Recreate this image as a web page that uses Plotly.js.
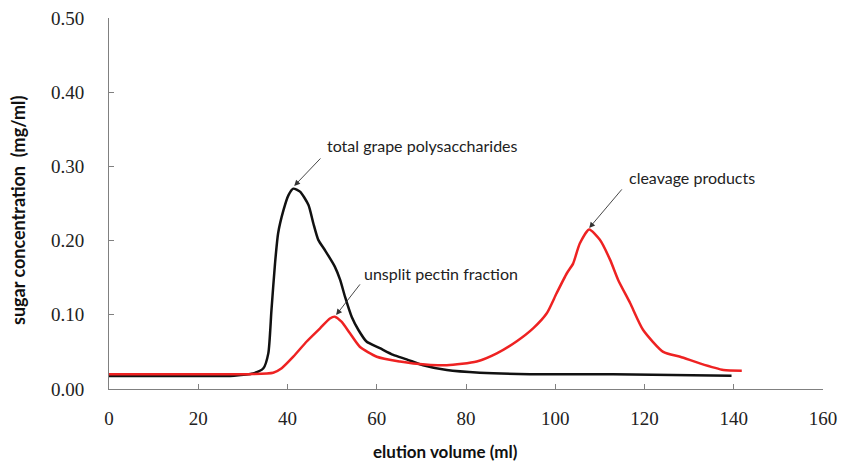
<!DOCTYPE html>
<html>
<head>
<meta charset="utf-8">
<script src="https://cdn.plot.ly/plotly-3.0.1.min.js"></script>
<style>
html,body{margin:0;padding:0;background:#fff;}
#chart{width:841px;height:464px;}
</style>
</head>
<body>
<div id="chart"></div>
<script>
// Total grape polysaccharides (black)
const totalX = [0, 10, 20, 28, 32.3, 34.6, 35.7, 36.4, 37.2, 37.9, 39.1, 40.2, 41.3, 42.8, 44.7, 45.8, 46.9, 48.4, 50.6, 51.8, 52.9, 54.4, 55.9, 57.7, 60.7, 63.7, 66.7, 70.4, 75.7, 83.1, 94.3, 113, 139.5];
const totalY = [0.0175, 0.0175, 0.0175, 0.018, 0.021, 0.028, 0.048, 0.106, 0.169, 0.21, 0.241, 0.261, 0.27, 0.266, 0.248, 0.223, 0.201, 0.187, 0.165, 0.147, 0.124, 0.097, 0.0795, 0.064, 0.055, 0.046, 0.040, 0.032, 0.0256, 0.022, 0.020, 0.020, 0.018];

// Cleavage fraction (red)
const cleaveX = [0, 10, 20, 31.6, 36.8, 38.7, 41.3, 44.3, 47.3, 49.5, 50.6, 52.1, 54.0, 56.2, 60.0, 65.2, 68.2, 75.7, 82.4, 86.9, 91.3, 95.1, 98.1, 100.3, 102.6, 104.0, 105.5, 107.6, 110.0, 112.3, 114.1, 116.8, 119.7, 124.2, 128.0, 132.4, 137.7, 141.8];
const cleaveY = [0.020, 0.020, 0.020, 0.020, 0.022, 0.028, 0.0435, 0.064, 0.0818, 0.095, 0.0975, 0.0907, 0.075, 0.057, 0.0435, 0.037, 0.0345, 0.032, 0.037, 0.048, 0.064, 0.082, 0.102, 0.129, 0.156, 0.169, 0.196, 0.215, 0.201, 0.174, 0.147, 0.1155, 0.0795, 0.050, 0.0435, 0.0345, 0.0256, 0.0247];

const xTicks = [0, 20, 40, 60, 80, 100, 120, 140, 160];
const yTicks = [0, 0.1, 0.2, 0.3, 0.4, 0.5];

const labels = ['total grape polysaccharides', 'unsplit pectin fraction', 'cleavage products'];
const labelX = [48.4, 56.7, 116.1];
const labelY = [0.3275, 0.155, 0.2844];
const arrowHeadX = [41.5, 50.9, 107.6];
const arrowHeadY = [0.2736, 0.0997, 0.217];
const arrowTailX = [47.7, 56.5, 115.2];
const arrowTailY = [0.3127, 0.143, 0.271];

const traces = [
  {x: totalX, y: totalY, type: 'scatter', mode: 'lines',
   line: {color: '#111111', width: 2.5, shape: 'spline', smoothing: 0.6}, hoverinfo: 'skip'},
  {x: cleaveX, y: cleaveY, type: 'scatter', mode: 'lines',
   line: {color: '#ee2222', width: 2.5, shape: 'spline', smoothing: 0.6}, hoverinfo: 'skip'}
];

const annotations = [];
for (let i = 0; i < labels.length; i++) {
  annotations.push({
    xref: 'x', yref: 'y', x: labelX[i], y: labelY[i], text: labels[i],
    showarrow: false, xanchor: 'left', yanchor: 'middle',
    font: {family: 'Lato, "Open Sans", sans-serif', size: 16, color: '#222'}
  });
  annotations.push({
    xref: 'x', yref: 'y', axref: 'x', ayref: 'y',
    x: arrowHeadX[i], y: arrowHeadY[i], ax: arrowTailX[i], ay: arrowTailY[i],
    text: '', showarrow: true, arrowhead: 2, arrowsize: 1.3, arrowwidth: 0.9, arrowcolor: '#333'
  });
}
annotations.push({
  xref: 'paper', yref: 'paper', x: 0.4706, y: -0.1698, text: '<b>elution volume (ml)</b>',
  showarrow: false, xanchor: 'center', yanchor: 'middle',
  font: {family: 'Lato, "Open Sans", sans-serif', size: 17, color: '#111'}
});
annotations.push({
  xref: 'paper', yref: 'paper', x: -0.1275, y: 0.4825, text: '<b>sugar concentration&nbsp;&nbsp;(mg/ml)</b>',
  showarrow: false, xanchor: 'center', yanchor: 'middle', textangle: -90,
  font: {family: 'Lato, "Open Sans", sans-serif', size: 18, color: '#111'}
});

const layout = {
  width: 841, height: 464,
  margin: {l: 109, r: 18, t: 18, b: 75},
  paper_bgcolor: '#fff', plot_bgcolor: '#fff',
  showlegend: false,
  xaxis: {
    range: [0, 160], tickvals: xTicks, ticktext: xTicks.map(String),
    showgrid: false, zeroline: false, showline: true, linecolor: '#808080', linewidth: 1,
    ticks: 'inside', ticklen: 5, tickcolor: '#808080',
    ticklabelstandoff: 12,
    tickfont: {family: '"Liberation Serif", "Times New Roman", serif', size: 19, color: '#222'}
  },
  yaxis: {
    range: [0, 0.5], tickvals: yTicks, tickformat: '.2f',
    showgrid: false, zeroline: false, showline: true, linecolor: '#808080', linewidth: 1,
    ticks: 'inside', ticklen: 5, tickcolor: '#808080',
    ticklabelstandoff: 20,
    tickfont: {family: '"Liberation Serif", "Times New Roman", serif', size: 19, color: '#222'}
  },
  annotations: annotations
};

Plotly.newPlot('chart', traces, layout, {staticPlot: true, displayModeBar: false});
</script>
</body>
</html>
